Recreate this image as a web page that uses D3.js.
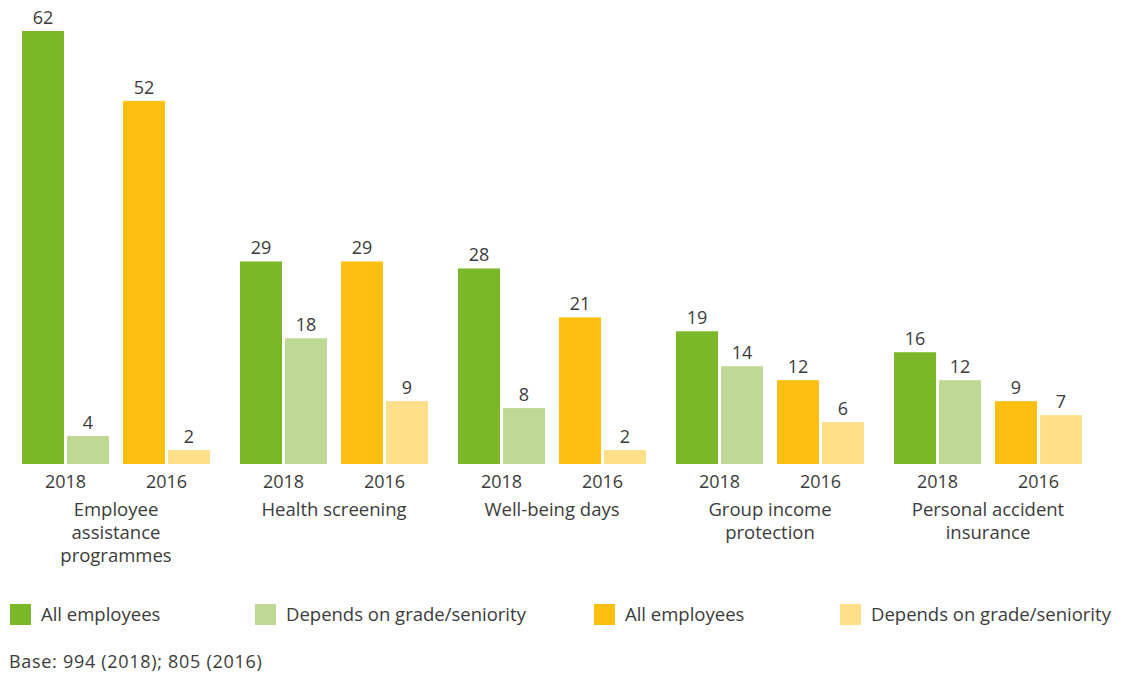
<!DOCTYPE html>
<html>
<head>
<meta charset="utf-8">
<script src="https://cdn.jsdelivr.net/npm/d3@7"></script>
<style>
  body { margin: 0; background: #fff; }
  svg text { font-family: 'Open Sans', sans-serif; fill: #3c3c3c; }
</style>
</head>
<body>
<svg id="chart"></svg>
<script>
const categories = [
  ['Employee', 'assistance', 'programmes'],
  ['Health screening'],
  ['Well-being days'],
  ['Group income', 'protection'],
  ['Personal accident', 'insurance']
]
const years = ['2018', '2016']
const seriesKeys = ['all', 'depends']
const all2018 = [62, 29, 28, 19, 16]
const depends2018 = [4, 18, 8, 14, 12]
const all2016 = [52, 29, 21, 12, 9]
const depends2016 = [2, 9, 2, 6, 7]
const legendLabels = ['All employees', 'Depends on grade/seniority', 'All employees', 'Depends on grade/seniority']
const note = 'Base: 994 (2018); 805 (2016)'

const width = 1123
const height = 675
const baseline = 464

const colors = {
  '2018': { all: '#7ab829', depends: '#bed994' },
  '2016': { all: '#fdc010', depends: '#fedf8a' }
}
const values = {
  '2018': { all: all2018, depends: depends2018 },
  '2016': { all: all2016, depends: depends2016 }
}

const rows = []
categories.forEach((c, i) => {
  years.forEach(y => {
    seriesKeys.forEach(s => {
      rows.push({ cat: i, year: y, key: s, value: values[y][s][i] })
    })
  })
})

const svg = d3.select('#chart').attr('width', width).attr('height', height)

const x0 = d3.scaleBand()
  .domain(d3.range(categories.length))
  .range([22, 1082])
  .paddingInner(30 / 218)
  .paddingOuter(0)

const x1 = d3.scaleBand()
  .domain(years)
  .range([0, x0.bandwidth()])
  .paddingInner(13 / 94)

const x2 = d3.scaleBand()
  .domain(seriesKeys)
  .range([0, x1.bandwidth()])
  .paddingInner(3 / 45)

const y = d3.scaleLinear()
  .domain([0, 62])
  .range([baseline, 31])

const barX = d => x0(d.cat) + x1(d.year) + x2(d.key)

svg.append('g')
  .selectAll('rect')
  .data(rows)
  .join('rect')
  .attr('x', barX)
  .attr('y', d => y(d.value))
  .attr('width', x2.bandwidth())
  .attr('height', d => baseline - y(d.value))
  .attr('fill', d => colors[d.year][d.key])

svg.append('g')
  .selectAll('text')
  .data(rows)
  .join('text')
  .attr('x', d => barX(d) + x2.bandwidth() / 2)
  .attr('y', d => y(d.value) - 7)
  .attr('text-anchor', 'middle')
  .attr('font-size', 18)
  .text(d => d.value)

// year labels
const yearRows = []
categories.forEach((c, i) => years.forEach(yr => yearRows.push({ cat: i, year: yr })))
svg.append('g')
  .selectAll('text')
  .data(yearRows)
  .join('text')
  .attr('x', d => x0(d.cat) + x1(d.year) + x1.bandwidth() / 2)
  .attr('y', 488)
  .attr('text-anchor', 'middle')
  .attr('font-size', 18)
  .text(d => d.year)

// category labels
const catG = svg.append('g')
  .selectAll('text')
  .data(categories)
  .join('text')
  .attr('x', (d, i) => x0(i) + x0.bandwidth() / 2)
  .attr('y', 516)
  .attr('text-anchor', 'middle')
  .attr('font-size', 18.5)
catG.selectAll('tspan')
  .data(d => d)
  .join('tspan')
  .attr('x', function () { return d3.select(this.parentNode).attr('x') })
  .attr('dy', (d, i) => i === 0 ? 0 : 23)
  .text(d => d)

// legend
const legendColors = [colors['2018'].all, colors['2018'].depends, colors['2016'].all, colors['2016'].depends]
const legendX = [10, 255, 594, 840]
const legend = svg.append('g')
  .selectAll('g')
  .data(legendLabels)
  .join('g')
  .attr('transform', (d, i) => `translate(${legendX[i]}, 604)`)
legend.append('rect')
  .attr('width', 21)
  .attr('height', 21)
  .attr('fill', (d, i) => legendColors[i])
legend.append('text')
  .attr('x', 31)
  .attr('y', 17)
  .attr('font-size', 18.5)
  .text(d => d)

svg.append('text')
  .attr('x', 9)
  .attr('y', 668)
  .attr('font-size', 18)
  .attr('letter-spacing', 0.7)
  .text(note)
</script>
</body>
</html>
